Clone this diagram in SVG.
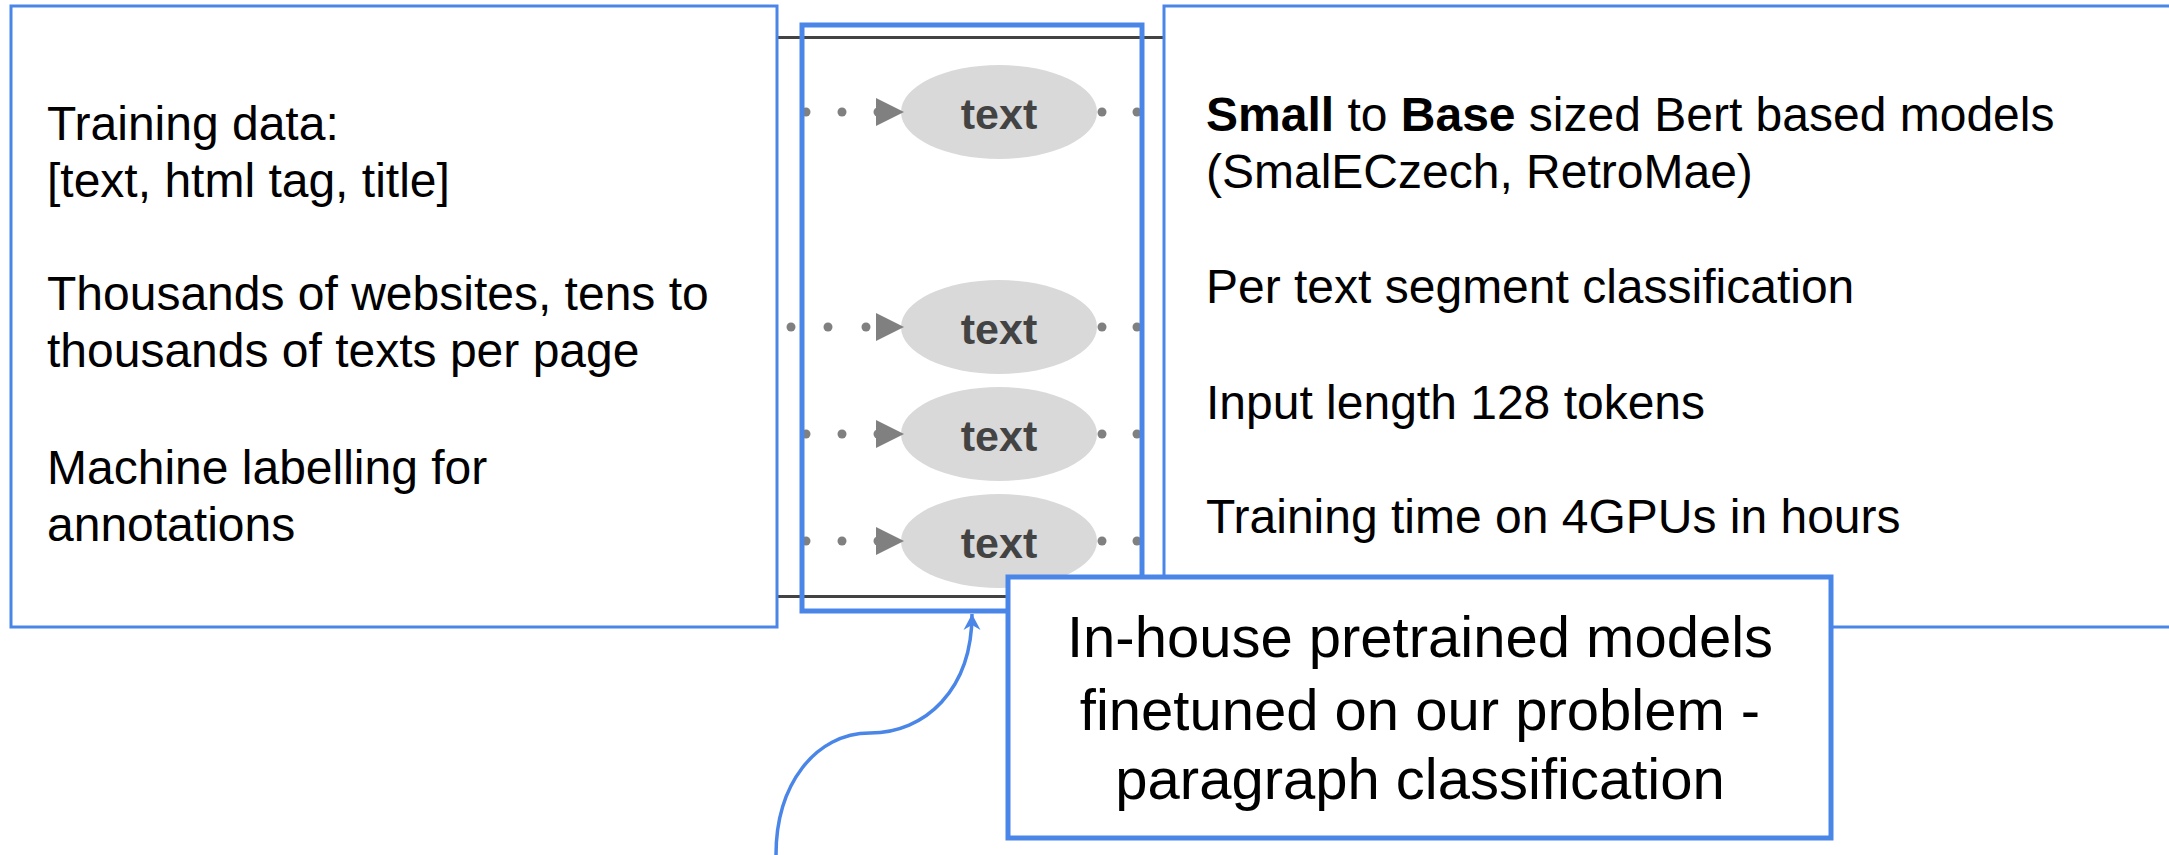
<svg xmlns="http://www.w3.org/2000/svg" width="2169" height="855" viewBox="0 0 2169 855">
  <style>
    .box { fill: #ffffff; stroke: #4a86e8; stroke-width: 3; }
    .frame { fill: none; stroke: #4a86e8; stroke-width: 5; }
    .callout { fill: #ffffff; stroke: #4a86e8; stroke-width: 5; }
    .body { font-family: "Liberation Sans", Arial, sans-serif; font-size: 48px; fill: #000000; }
    .big { font-family: "Liberation Sans", Arial, sans-serif; font-size: 58px; fill: #000000; text-anchor: middle; }
    .node { fill: #d9d9d9; }
    .nlabel { font-family: "Liberation Sans", Arial, sans-serif; font-size: 43px; font-weight: bold; fill: #434343; text-anchor: middle; }
    .dot { fill: #808080; }
    .ahead { fill: #808080; }
    .rule { stroke: #434343; stroke-width: 3; }
    .curve { fill: none; stroke: #4a86e8; stroke-width: 3.5; }
  </style>
  <defs>
    <marker id="dart" markerUnits="userSpaceOnUse" viewBox="-18 -10 20 20" markerWidth="20" markerHeight="20" refX="0" refY="0" orient="auto">
      <path d="M0,0 L-16,-8.5 L-11,0 L-16,8.5 Z" fill="#4a86e8"/>
    </marker>
  </defs>
  <rect width="2169" height="855" fill="#ffffff"/>

  <g id="nodes-middle">
    <g id="node1">
      <ellipse class="node" cx="999" cy="112" rx="98" ry="47"/>
      <text class="nlabel" x="999" y="129">text</text>
    </g>
    <g id="node2">
      <ellipse class="node" cx="999" cy="327" rx="98" ry="47"/>
      <text class="nlabel" x="999" y="344">text</text>
    </g>
    <g id="node3">
      <ellipse class="node" cx="999" cy="434" rx="98" ry="47"/>
      <text class="nlabel" x="999" y="451">text</text>
    </g>
    <g id="node4">
      <ellipse class="node" cx="999" cy="541" rx="98" ry="47"/>
      <text class="nlabel" x="999" y="558">text</text>
    </g>
  </g>

  <g id="connectors">
    <g id="row1">
      <circle class="dot" cx="806" cy="112" r="4.5"/>
      <circle class="dot" cx="842" cy="112" r="4.5"/>
      <circle class="dot" cx="878" cy="112" r="4.5"/>
      <polygon class="ahead" points="876,98 904,112 876,126"/>
      <circle class="dot" cx="1102" cy="112" r="4.5"/>
      <circle class="dot" cx="1137" cy="112" r="4.5"/>
    </g>
    <g id="row2">
      <circle class="dot" cx="791" cy="327" r="4.5"/>
      <circle class="dot" cx="828" cy="327" r="4.5"/>
      <circle class="dot" cx="866" cy="327" r="4.5"/>
      <polygon class="ahead" points="876,313 904,327 876,341"/>
      <circle class="dot" cx="1102" cy="327" r="4.5"/>
      <circle class="dot" cx="1137" cy="327" r="4.5"/>
    </g>
    <g id="row3">
      <circle class="dot" cx="806" cy="434" r="4.5"/>
      <circle class="dot" cx="842" cy="434" r="4.5"/>
      <circle class="dot" cx="878" cy="434" r="4.5"/>
      <polygon class="ahead" points="876,420 904,434 876,448"/>
      <circle class="dot" cx="1102" cy="434" r="4.5"/>
      <circle class="dot" cx="1137" cy="434" r="4.5"/>
    </g>
    <g id="row4">
      <circle class="dot" cx="806" cy="541" r="4.5"/>
      <circle class="dot" cx="842" cy="541" r="4.5"/>
      <circle class="dot" cx="878" cy="541" r="4.5"/>
      <polygon class="ahead" points="876,527 904,541 876,555"/>
      <circle class="dot" cx="1102" cy="541" r="4.5"/>
      <circle class="dot" cx="1137" cy="541" r="4.5"/>
    </g>
    <line class="rule" x1="777" y1="37.5" x2="1164" y2="37.5"/>
    <line class="rule" x1="777" y1="596.5" x2="1164" y2="596.5"/>
    <path class="curve" d="M776,855 C776,785 815,733 870,733 C925,733 972,690 972,614" marker-end="url(#dart)"/>
  </g>

  <g id="frame-middle">
    <rect class="frame" x="802" y="25" width="340" height="586"/>
  </g>

  <g id="box-left">
    <rect class="box" x="11" y="6" width="766" height="621"/>
    <text class="body" x="47" y="140">Training data:</text>
    <text class="body" x="47" y="197">[text, html tag, title]</text>
    <text class="body" x="47" y="310">Thousands of websites, tens to</text>
    <text class="body" x="47" y="367">thousands of texts per page</text>
    <text class="body" x="47" y="484">Machine labelling for</text>
    <text class="body" x="47" y="541">annotations</text>
  </g>

  <g id="box-right">
    <rect class="box" x="1164" y="6" width="1020" height="621"/>
    <text class="body" x="1206" y="131"><tspan font-weight="bold">Small</tspan> to <tspan font-weight="bold">Base</tspan> sized Bert based models</text>
    <text class="body" x="1206" y="188">(SmalECzech, RetroMae)</text>
    <text class="body" x="1206" y="303">Per text segment classification</text>
    <text class="body" x="1206" y="419">Input length 128 tokens</text>
    <text class="body" x="1206" y="533">Training time on 4GPUs in hours</text>
  </g>

  <g id="callout">
    <rect class="callout" x="1008" y="577" width="823" height="261"/>
    <text class="big" x="1420" y="657">In-house pretrained models</text>
    <text class="big" x="1420" y="730">finetuned on our problem -</text>
    <text class="big" x="1420" y="799">paragraph classification</text>
  </g>
</svg>
